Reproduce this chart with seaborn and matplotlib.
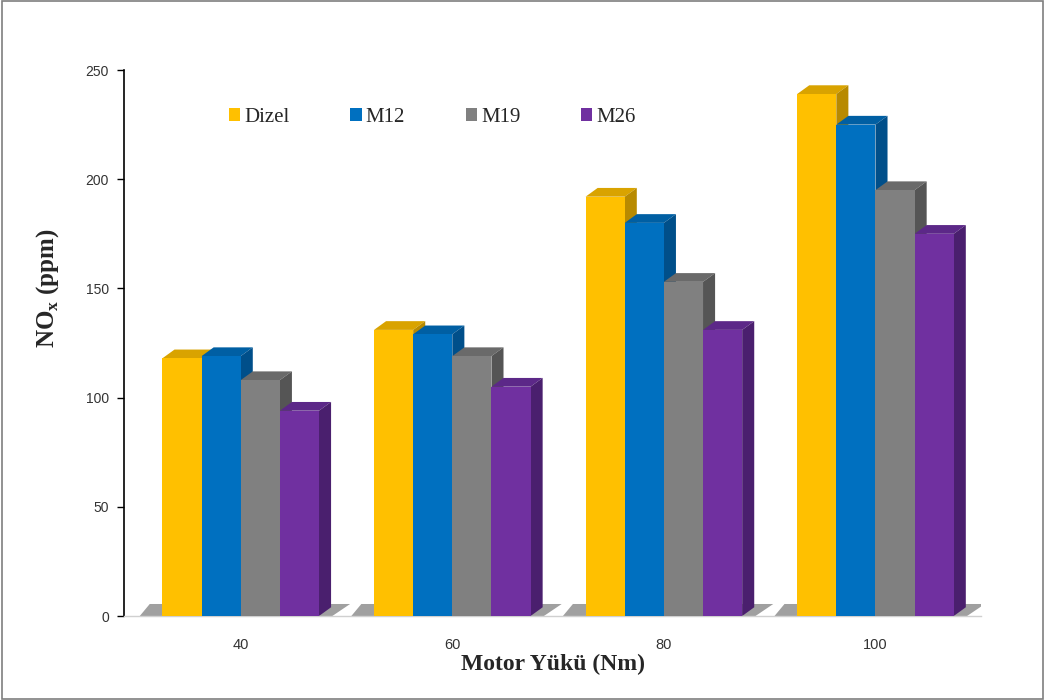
import numpy as np
import pandas as pd
import matplotlib
matplotlib.use('Agg')
import matplotlib.pyplot as plt
import seaborn as sns
from matplotlib.patches import Polygon, Rectangle, Patch

# ----- data -----
loads = ['40', '60', '80', '100']
fuels = ['Dizel', 'M12', 'M19', 'M26']
dizel = [118, 131, 192, 239]
m12 = [119, 129, 180, 225]
m19 = [108, 119, 153, 195]
m26 = [94, 105, 131, 175]

front_cols = ['#FFC000', '#0070C0', '#808080', '#7030A0']
side_cols = ['#B88A00', '#004F8A', '#555555', '#4A1F6E']
top_cols = ['#D9A300', '#005FA3', '#6A6A6A', '#5C2888']

df = pd.DataFrame({
    'load': loads * 4,
    'fuel': np.repeat(fuels, 4),
    'nox': dizel + m12 + m19 + m26,
})

sns.set_style('white')
plt.rcParams['font.family'] = ['Liberation Sans', 'DejaVu Sans']

fig = plt.figure(figsize=(10.45, 7), dpi=100)
ax = fig.add_axes([0.119, 0.12, 0.82, 0.78])

sns.barplot(data=df, x='load', y='nox', hue='fuel', order=loads, hue_order=fuels,
            palette=front_cols, width=0.74, ax=ax, legend=False, saturation=1,
            edgecolor='none', linewidth=0, zorder=3)

# fake 3D depth faces derived from each bar patch
dx, dy = 0.057, 4.0
bars = [p for p in ax.patches if isinstance(p, Rectangle)]
for i, p in enumerate(bars):
    k = i // 4
    x, w, h = p.get_x(), p.get_width(), p.get_height()
    top = Polygon([(x, h), (x + w, h), (x + w + dx, h + dy), (x + dx, h + dy)],
                  closed=True, facecolor=top_cols[k], edgecolor='none', zorder=2)
    side = Polygon([(x + w, 0), (x + w, h), (x + w + dx, h + dy), (x + w + dx, dy)],
                   closed=True, facecolor=side_cols[k], edgecolor='none', zorder=2)
    ax.add_patch(top)
    ax.add_patch(side)

# floor shadow under each group
for j in range(len(loads)):
    g = [b for b in bars if abs(b.get_x() + b.get_width() / 2 - j) < 0.5]
    x0 = min(b.get_x() for b in g)
    x1 = max(b.get_x() + b.get_width() for b in g)
    shadow = Polygon([(x0 - 0.12, -1.5), (x1 + 0.04, -1.5), (x1 + dx + 0.09, dy + 1.5),
                      (x0 - 0.06, dy + 1.5)], closed=True, facecolor='#808080',
                     edgecolor='none', alpha=0.75, zorder=1)
    ax.add_patch(shadow)

ax.set_xlim(-0.55, 3.5)
ax.set_ylim(0, 250)
ax.set_yticks([0, 50, 100, 150, 200, 250])

for s in ['top', 'right']:
    ax.spines[s].set_visible(False)
ax.spines['left'].set_color('black')
ax.spines['left'].set_linewidth(1.2)
ax.spines['bottom'].set_color('#d0d0d0')
ax.spines['bottom'].set_linewidth(1.0)

ax.tick_params(axis='y', which='both', left=True, direction='out', length=5,
               width=1, colors='black', labelsize=10, labelcolor='#333333', pad=6)
ax.tick_params(axis='x', bottom=False, labelsize=10.5, labelcolor='#333333', pad=12)

ax.set_xlabel('Motor Yükü (Nm)', fontsize=17, fontweight='bold',
              family='Liberation Serif', labelpad=2)
ax.set_ylabel('NO$_\\mathregular{x}$ (ppm)', fontsize=18, fontweight='bold',
              family='Liberation Serif')
ax.yaxis.set_label_coords(-0.074, 0.6)

handles = [Patch(facecolor=c, edgecolor='none') for c in front_cols]
ax.legend(handles, fuels, ncol=4, frameon=False, loc='upper left',
          bbox_to_anchor=(0.1, 0.965), prop={'family': 'Liberation Serif', 'size': 15},
          handlelength=0.55, handleheight=0.55, handletextpad=0.2, columnspacing=2.9)

# outer border of the figure
fig.patches.append(Rectangle((0.002, 0.002), 0.996, 0.996, transform=fig.transFigure,
                             fill=False, edgecolor='#7f7f7f', linewidth=1.2))

fig.savefig('out.png', dpi=100)
